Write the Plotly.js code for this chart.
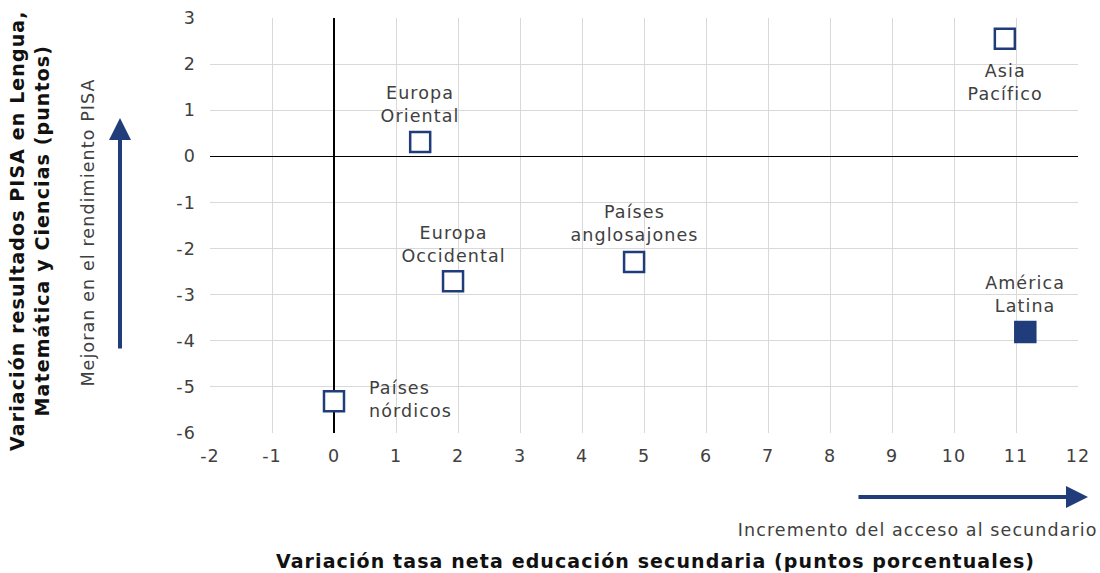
<!DOCTYPE html>
<html><head><meta charset="utf-8">
<script src="https://cdn.plot.ly/plotly-3.0.1.min.js"></script>
<style>html,body{margin:0;padding:0;background:#fff}#chart{width:1100px;height:573px}
#chart text{letter-spacing:1.1px}</style>
</head><body><div id="chart"></div>
<script>
const regions = ["Asia<br>Pacífico","Europa<br>Oriental","Europa<br>Occidental","Países<br>anglosajones","América<br>Latina","Países<br>nórdicos"];
const secundaria = [10.82, 1.39, 1.92, 4.84, 11.15, 0.0];
const pisa = [2.55, 0.31, -2.71, -2.29, -3.81, -5.31];
const xTicks = [-2,-1,0,1,2,3,4,5,6,7,8,9,10,11,12];
const yTicks = [3,2,1,0,-1,-2,-3,-4,-5,-6];
const highlight = "América<br>Latina";

const navy = "#213C7B";
const FONT = "DejaVu Sans";

const labelPos = {
  "Asia<br>Pacífico": {xs:0, ys:-44, xa:"center"},
  "Europa<br>Oriental": {xs:0, ys:38, xa:"center"},
  "Europa<br>Occidental": {xs:0, ys:37, xa:"center"},
  "Países<br>anglosajones": {xs:0, ys:38, xa:"center"},
  "América<br>Latina": {xs:0, ys:38, xa:"center"},
  "Países<br>nórdicos": {xs:33, ys:2, xa:"left"}
};

const trace = {
  x: secundaria, y: pisa, mode: "markers", type: "scatter",
  hoverinfo: "skip",
  marker: {
    symbol: "square", size: 20,
    color: regions.map(r => r === highlight ? navy : "#ffffff"),
    line: {color: navy, width: 2.5}
  }
};

const annotations = regions.map((r,i) => ({
  x: secundaria[i], y: pisa[i], xref: "x", yref: "y",
  text: r, showarrow: false,
  xanchor: labelPos[r].xa, yanchor: "middle",
  xshift: labelPos[r].xs, yshift: labelPos[r].ys,
  align: labelPos[r].xa === "left" ? "left" : "center",
  font: {family: FONT, size: 17.5, color: "#404040"}
}));

annotations.push(
  {xref:"paper", yref:"paper", x:-0.207, y:0.487, text:"<b>Variación resultados PISA en Lengua,<br>Matemática y Ciencias (puntos)</b>",
   textangle:-90, showarrow:false, xanchor:"center", yanchor:"middle",
   font:{family:FONT, size:19, color:"#111"}},
  {xref:"paper", yref:"paper", x:-0.1406, y:0.484, text:"Mejoran en el rendimiento PISA",
   textangle:-90, showarrow:false, xanchor:"center", yanchor:"middle",
   font:{family:FONT, size:17.5, color:"#404040"}},
  {xref:"paper", yref:"paper", x:0.5127, y:-0.308, text:"<b>Variación tasa neta educación secundaria (puntos porcentuales)</b>",
   showarrow:false, xanchor:"center", yanchor:"middle",
   font:{family:FONT, size:19, color:"#111"}},
  {xref:"paper", yref:"paper", x:1.0023, y:-0.234, text:"Incremento del acceso al secundario",
   showarrow:false, xanchor:"right", yanchor:"middle",
   font:{family:FONT, size:17.5, color:"#404040"}},
  {xref:"paper", yref:"paper", x:-0.1037, y:0.759, text:"", showarrow:true,
   ax:0, ay:232, arrowhead:2, arrowsize:1.1, arrowwidth:4, arrowcolor:navy},
  {xref:"paper", yref:"paper", x:1.0115, y:-0.154, text:"", showarrow:true,
   ax:-231, ay:0, arrowhead:2, arrowsize:1.1, arrowwidth:4, arrowcolor:navy}
);

const layout = {
  width:1100, height:573,
  margin:{l:210, r:22, t:18, b:140},
  paper_bgcolor:"#fff", plot_bgcolor:"#fff",
  showlegend:false,
  font:{family:FONT, size:17, color:"#404040"},
  xaxis:{range:[-2,12], tickvals:xTicks, ticktext:xTicks.map(String),
    showgrid:true, gridcolor:"#d9d9d9", gridwidth:1,
    zeroline:true, zerolinecolor:"#000", zerolinewidth:1.5,
    showline:false, ticks:"", ticklabelstandoff:10, fixedrange:true,
    tickfont:{family:FONT, size:17.5, color:"#404040"}},
  yaxis:{range:[-6,3], tickvals:yTicks, ticktext:yTicks.map(String),
    showgrid:true, gridcolor:"#d9d9d9", gridwidth:1,
    zeroline:true, zerolinecolor:"#000", zerolinewidth:1.5,
    showline:false, ticks:"", ticklabelstandoff:13, fixedrange:true,
    tickfont:{family:FONT, size:17.5, color:"#404040"}},
  annotations: annotations
};

Plotly.newPlot("chart", [trace], layout, {displayModeBar:false, staticPlot:true});
</script></body></html>
